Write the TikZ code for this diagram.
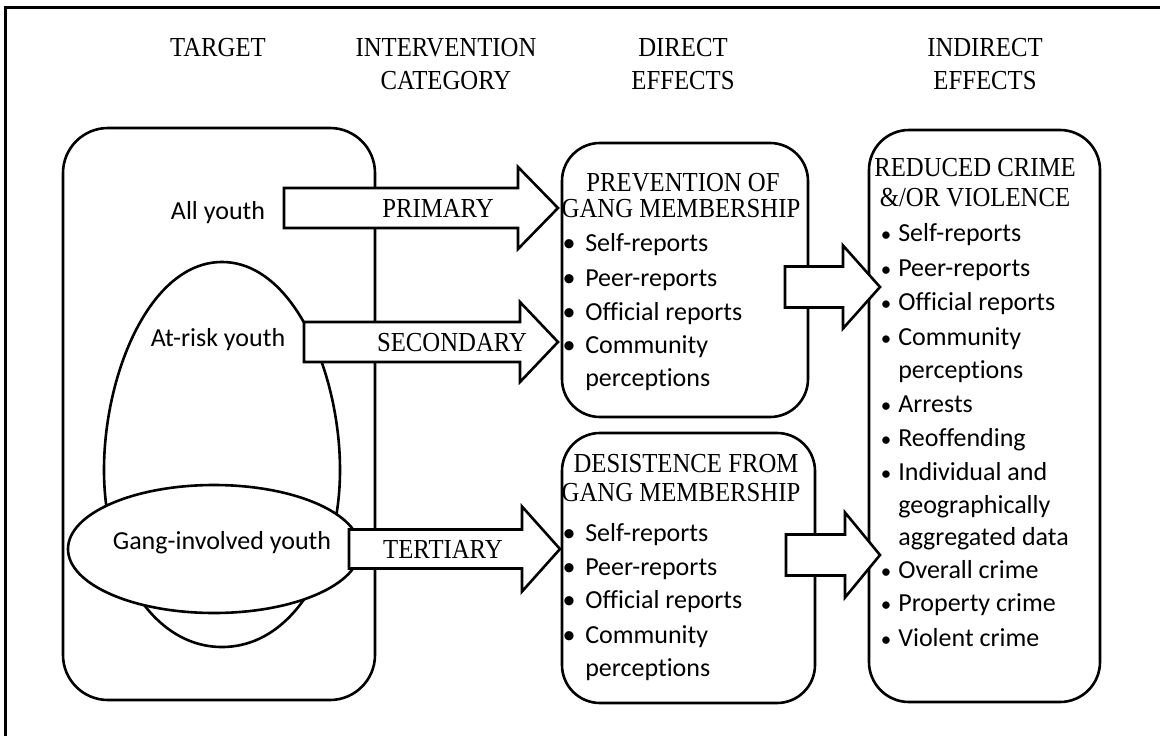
\documentclass[tikz,border=0pt]{standalone}
\usepackage{fontspec}
\setmainfont{Liberation Serif}
\newfontfamily\seriff[FakeStretch=0.9]{Liberation Serif}
\newfontfamily\sansf[Ligatures=NoCommon]{Carlito}
\newcommand\blockarr[7]{% name, tail x, base x, tip x, centre y, half shaft, half head
  \draw[fill=white] (#2,#5-#6) -- (#3,#5-#6) -- (#3,#5-#7) -- (#4,#5) coordinate (#1tip)
    -- (#3,#5+#7) -- (#3,#5+#6) -- (#2,#5+#6) coordinate (#1tail) -- cycle;}
\begin{document}
\begin{tikzpicture}[x=1pt,y=-1pt,line width=2.6pt,line join=miter,
  hdr/.style={font=\seriff\fontsize{27.5}{32}\selectfont,inner sep=0,anchor=base},
  lbl/.style={font=\sansf\fontsize{26}{31}\selectfont,inner sep=0,anchor=base},
  item/.style={font=\sansf\fontsize{26}{31}\selectfont,inner sep=0,anchor=base west},
  bul/.style={font=\sansf\fontsize{26}{31}\selectfont,inner sep=0,anchor=base},
  sbul/.style={font=\sansf\fontsize{21}{24}\selectfont,inner sep=0,anchor=base},
  rbox/.style={draw,fill=white,inner sep=0,line width=2.6pt}]
\useasboundingbox (0,0) rectangle (1160,736);
% outer frame
\draw[line width=3pt] (5,740) -- (5,7) -- (1165,7);
% column headings
\node[hdr] (hTarget) at (218,56) {TARGET};
\node[hdr] (hInt1) at (446,56) {INTERVENTION};
\node[hdr] (hInt2) at (446,89) {CATEGORY};
\node[hdr] (hDir1) at (683,56) {DIRECT};
\node[hdr] (hDir2) at (683,89) {EFFECTS};
\node[hdr] (hInd1) at (985,56) {INDIRECT};
\node[hdr] (hInd2) at (985,89) {EFFECTS};
% target box
\node[rbox,rounded corners=45pt,minimum width=312pt,minimum height=572pt] (target) at (219,414) {};
% at-risk egg
\draw[fill=white] (222,262) .. controls (294,262) and (340,374) .. (340,470)
  .. controls (340,566) and (292,647) .. (222,647)
  .. controls (152,647) and (104,566) .. (104,470)
  .. controls (104,374) and (150,262) .. (222,262) -- cycle;
% gang-involved ellipse
\draw[fill=white] (214,549) ellipse [x radius=146, y radius=64];
\node[lbl] (allY) at (218,219) {All youth};
\node[lbl] (riskY) at (218,346) {At-risk youth};
\node[lbl] (gangY) at (222,549) {Gang-involved youth};
% boxes
\node[rbox,rounded corners=38pt,minimum width=246pt,minimum height=274pt] (prev) at (685,280) {};
\node[rbox,rounded corners=38pt,minimum width=253pt,minimum height=270pt] (desi) at (688.5,568) {};
\node[rbox,rounded corners=40pt,minimum width=231pt,minimum height=572pt] (redu) at (984.5,416) {};
% block arrows
\blockarr{pri}{284}{518}{558}{208}{20}{41}
\blockarr{sec}{304}{520}{558}{342}{20}{40}
\blockarr{ter}{349}{522}{560}{549}{19.5}{42.5}
\blockarr{pr}{785}{843}{880}{287}{20.5}{41.5}
\blockarr{dr}{786}{845}{880}{555}{20.5}{42.5}
\node[hdr] (tPri) at (438,217) {PRIMARY};
\node[hdr] (tSec) at (452,351) {SECONDARY};
\node[hdr] (tTer) at (443,558) {TERTIARY};
% prevention box text
\node[hdr] (p1) at (683,191) {PREVENTION OF};
\node[hdr] (p2) at (681,217) {GANG MEMBERSHIP};
\foreach \yy/\tt/\bb in {251/Self-reports/1,286/Peer-reports/1,320/Official reports/1,353/Community/1,386/perceptions/0}{
  \ifnum\bb=1 \node[bul] at (569,\yy) {•};\fi
  \node[item] at (584,\yy) {\tt};}
% desistence box text
\node[hdr] (d1) at (686,472) {DESISTENCE FROM};
\node[hdr] (d2) at (681,501) {GANG MEMBERSHIP};
\foreach \yy/\tt/\bb in {541/Self-reports/1,575/Peer-reports/1,608/Official reports/1,643/Community/1,676/perceptions/0}{
  \ifnum\bb=1 \node[bul] at (569,\yy) {•};\fi
  \node[item] at (584,\yy) {\tt};}
% reduced box text
\node[hdr] (r1) at (975,176) {REDUCED CRIME};
\node[hdr] (r2) at (975,206) {\&/OR VIOLENCE};
\foreach \yy/\tt/\bb in {241/Self-reports/1,276/Peer-reports/1,310/Official reports/1,345/Community/1,378/perceptions/0,412/Arrests/1,446/Reoffending/1,480/Individual and/1,513/geographically/0,545/aggregated data/0,578/Overall crime/1,611/Property crime/1,646/Violent crime/1}{
  \ifnum\bb=1 \node[sbul] at (886,\yy) {•};\fi
  \node[item] at (897,\yy) {\tt};}
\end{tikzpicture}
\end{document}
